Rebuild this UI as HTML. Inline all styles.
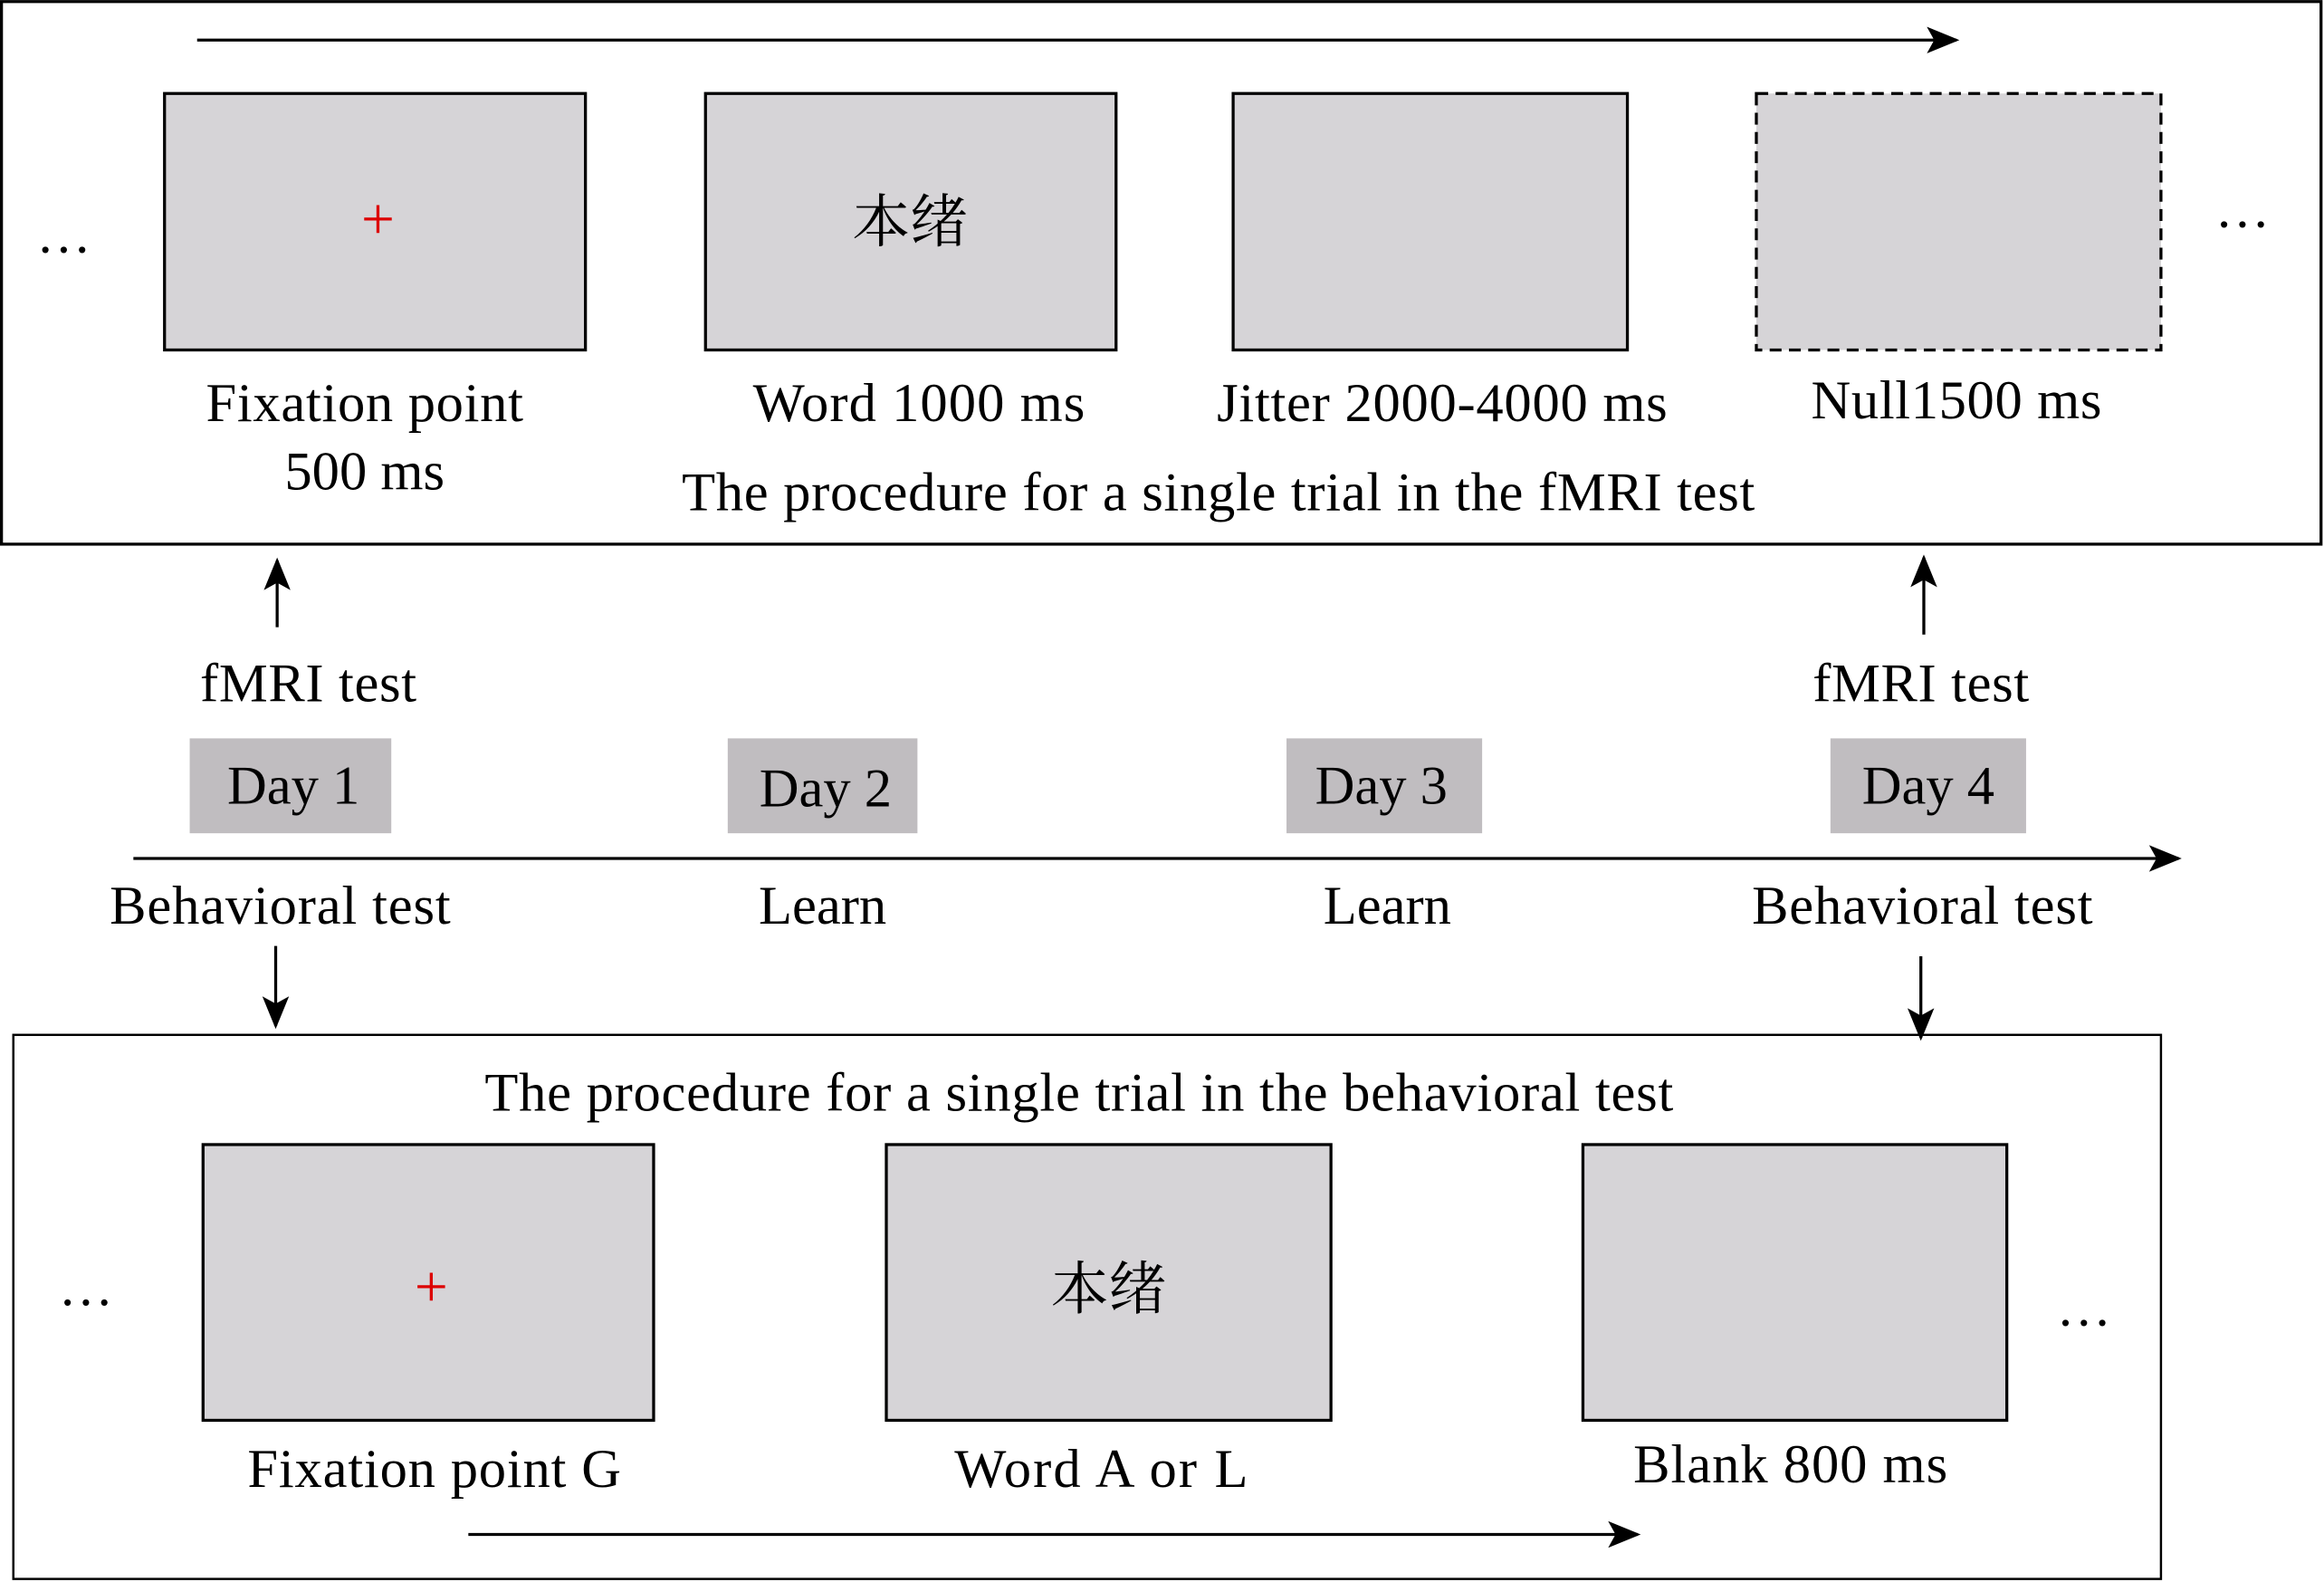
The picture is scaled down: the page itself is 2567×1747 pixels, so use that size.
<!DOCTYPE html>
<html><head><meta charset="utf-8"><style>html,body{margin:0;padding:0;background:#fff}svg{display:block}</style></head>
<body>
<svg width="2567" height="1747" viewBox="0 0 1568 1067" xmlns="http://www.w3.org/2000/svg" font-family="'Liberation Serif','Noto Serif CJK SC',serif" font-size="37" text-anchor="middle" fill="#000">
<defs><marker id="b" markerWidth="22" markerHeight="22" refX="20" refY="11" orient="auto" markerUnits="userSpaceOnUse"><path d="M0,2 L22,11 L0,20 L5,11 Z" fill="#000"/></marker></defs>
<rect x="1" y="1" width="1565" height="366" fill="none" stroke="#000" stroke-width="2"/>
<line x1="133" y1="27" x2="1320" y2="27" stroke="#000" stroke-width="2" marker-end="url(#b)"/>
<g fill="#d6d4d7" stroke="#000" stroke-width="2">
<rect x="111" y="63" width="284" height="173"/>
<rect x="476" y="63" width="277" height="173"/>
<rect x="832" y="63" width="266" height="173"/>
<rect x="1185" y="63" width="273" height="173" stroke-dasharray="8,5"/>
</g>
<text x="255" y="161" fill="#d00" font-size="40">+</text>
<text x="614" y="163" font-size="39" font-family="'Noto Serif CJK SC',serif">本绪</text>
<text x="43" y="170">…</text><text x="1513" y="153">…</text>
<text x="246" y="284" textLength="214">Fixation point</text>
<text x="246" y="330">500 ms</text>
<text x="620" y="284" textLength="224">Word 1000 ms</text>
<text x="973" y="284" textLength="304">Jitter 2000-4000 ms</text>
<text x="1320" y="282" textLength="196">Null1500 ms</text>
<text x="822" y="344" textLength="724">The procedure for a single trial in the fMRI test</text>
<line x1="187" y1="423" x2="187" y2="378" stroke="#000" stroke-width="2" marker-end="url(#b)"/>
<line x1="1298" y1="428" x2="1298" y2="376" stroke="#000" stroke-width="2" marker-end="url(#b)"/>
<text x="208" y="473" textLength="146">fMRI test</text>
<text x="1296" y="473" textLength="146">fMRI test</text>
<g fill="#c0bdc0"><rect x="128" y="498" width="136" height="64"/><rect x="491" y="498" width="128" height="64"/><rect x="868" y="498" width="132" height="64"/><rect x="1235" y="498" width="132" height="64"/></g>
<text x="198" y="542">Day 1</text><text x="557" y="544">Day 2</text><text x="932" y="542">Day 3</text><text x="1301" y="542">Day 4</text>
<line x1="90" y1="579" x2="1470" y2="579" stroke="#000" stroke-width="2" marker-end="url(#b)"/>
<text x="189" y="623" textLength="230">Behavioral test</text><text x="555" y="623">Learn</text><text x="936" y="623">Learn</text><text x="1297" y="623" textLength="230">Behavioral test</text>
<line x1="186" y1="638" x2="186" y2="692" stroke="#000" stroke-width="2" marker-end="url(#b)"/>
<line x1="1296" y1="645" x2="1296" y2="700" stroke="#000" stroke-width="2" marker-end="url(#b)"/>
<rect x="9" y="698" width="1449" height="367" fill="none" stroke="#000" stroke-width="1.5"/>
<text x="728" y="749" textLength="802">The procedure for a single trial in the behavioral test</text>
<g fill="#d6d4d7" stroke="#000" stroke-width="2">
<rect x="137" y="772" width="304" height="186"/>
<rect x="598" y="772" width="300" height="186"/>
<rect x="1068" y="772" width="286" height="186"/>
</g>
<text x="291" y="881" fill="#d00" font-size="40">+</text>
<text x="748" y="883" font-size="39" font-family="'Noto Serif CJK SC',serif">本绪</text>
<text x="58" y="880">…</text><text x="1406" y="894">…</text>
<text x="293" y="1003" textLength="252">Fixation point G</text>
<text x="743" y="1003" textLength="198">Word A or L</text>
<text x="1208" y="1000" textLength="212">Blank 800 ms</text>
<line x1="316" y1="1035" x2="1105" y2="1035" stroke="#000" stroke-width="2" marker-end="url(#b)"/>
</svg>
</body></html>
